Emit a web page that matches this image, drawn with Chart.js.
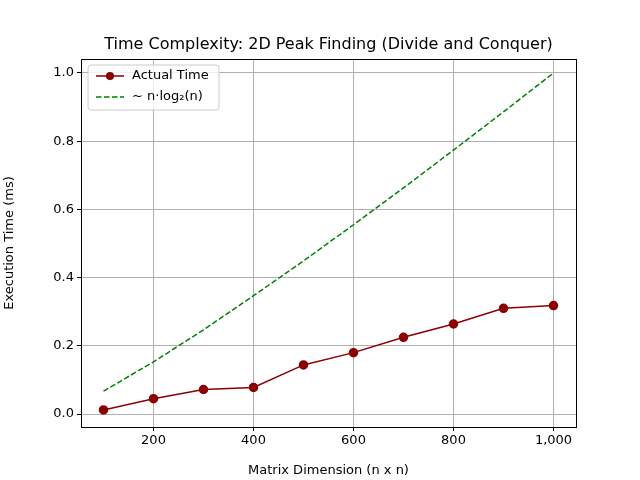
<!DOCTYPE html>
<html>
<head>
<meta charset="utf-8">
<script src="https://cdn.jsdelivr.net/npm/chart.js@4"></script>
<style>body{margin:0;background:#fff}</style>
</head>
<body>
<canvas id="c" width="640" height="480"></canvas>
<script>
// matrix dimension n (n x n)
const sizes = [100, 200, 300, 400, 500, 600, 700, 800, 900, 1000];
const actualTime = [0.012, 0.045, 0.072, 0.078, 0.144, 0.180, 0.225, 0.264, 0.310, 0.318];
const nLogN = [0.067, 0.153, 0.247, 0.347, 0.449, 0.555, 0.663, 0.774, 0.886, 1.0];
const xTicks = [200, 400, 600, 800, 1000];
const yTicks = [0.0, 0.2, 0.4, 0.6, 0.8, 1.0];

const font = "'DejaVu Sans', sans-serif";

// title, frame and legend drawn like matplotlib
const extras = {
  id: "extras",
  afterDraw(chart) {
    const ctx = chart.ctx, a = chart.chartArea;
    ctx.save();
    ctx.strokeStyle = "#000";
    ctx.lineWidth = 1;
    ctx.strokeRect(a.left + 0.5, a.top + 0.5, a.right - a.left, a.bottom - a.top);
    ctx.fillStyle = "#000";
    ctx.font = "16px " + font;
    ctx.textAlign = "center";
    ctx.textBaseline = "alphabetic";
    ctx.fillText("Time Complexity: 2D Peak Finding (Divide and Conquer)", (a.left + a.right) / 2, 49);

    // legend
    const lx = a.left + 7, ly = a.top + 6;
    ctx.fillStyle = "rgba(255,255,255,0.8)";
    ctx.strokeStyle = "#cccccc";
    ctx.beginPath();
    ctx.roundRect(lx, ly, 131, 45, 3);
    ctx.fill();
    ctx.stroke();
    ctx.font = "13px " + font;
    ctx.textAlign = "left";
    ctx.textBaseline = "middle";
    // Actual Time
    ctx.strokeStyle = "#8b0000";
    ctx.lineWidth = 1.5;
    ctx.beginPath(); ctx.moveTo(lx + 8, ly + 11); ctx.lineTo(lx + 36, ly + 11); ctx.stroke();
    ctx.fillStyle = "#8b0000";
    ctx.beginPath(); ctx.arc(lx + 22, ly + 11, 4, 0, Math.PI * 2); ctx.fill();
    ctx.fillStyle = "#000";
    ctx.fillText("Actual Time", lx + 44, ly + 11);
    // n log n
    ctx.strokeStyle = "#008000";
    ctx.setLineDash([5.5, 2.5]);
    ctx.beginPath(); ctx.moveTo(lx + 8, ly + 32); ctx.lineTo(lx + 36, ly + 32); ctx.stroke();
    ctx.setLineDash([]);
    ctx.fillText("~ n·log₂(n)", lx + 44, ly + 32);
    ctx.restore();
  }
};

new Chart(document.getElementById("c"), {
  type: "line",
  data: {
    datasets: [
      {
        label: "Actual Time",
        data: sizes.map((n, i) => ({ x: n, y: actualTime[i] })),
        borderColor: "#8b0000",
        backgroundColor: "#8b0000",
        borderWidth: 1.5,
        pointRadius: 4,
        pointHoverRadius: 4
      },
      {
        label: "~ n·log₂(n)",
        data: sizes.map((n, i) => ({ x: n, y: nLogN[i] })),
        borderColor: "#008000",
        borderWidth: 1.5,
        borderDash: [5.5, 2.5],
        pointRadius: 0
      }
    ]
  },
  options: {
    responsive: false,
    animation: false,
    layout: { padding: { top: 59, right: 64, left: 0, bottom: 0 } },
    plugins: { legend: { display: false }, tooltip: { enabled: false } },
    scales: {
      x: {
        type: "linear",
        min: 55,
        max: 1045,
        afterBuildTicks: s => { s.ticks = xTicks.map(v => ({ value: v })); },
        afterFit: s => { s.height = 53; },
        grid: { color: "#b0b0b0", tickColor: "#000", tickLength: 4 },
        border: { color: "#000" },
        ticks: { color: "#000", font: { family: font, size: 13 }, padding: 2 },
        title: { display: true, text: "Matrix Dimension (n x n)", color: "#000", font: { family: font, size: 13 }, padding: 2 }
      },
      y: {
        min: -0.038,
        max: 1.041,
        afterBuildTicks: s => { s.ticks = yTicks.map(v => ({ value: v })); },
        afterFit: s => { s.width = 81; },
        grid: { color: "#b0b0b0", tickColor: "#000", tickLength: 4 },
        border: { color: "#000" },
        ticks: { color: "#000", font: { family: font, size: 13 }, padding: 3, callback: v => v.toFixed(1) },
        title: { display: true, text: "Execution Time (ms)", color: "#000", font: { family: font, size: 13 }, padding: 2 }
      }
    }
  },
  plugins: [extras]
});
</script>
</body>
</html>
